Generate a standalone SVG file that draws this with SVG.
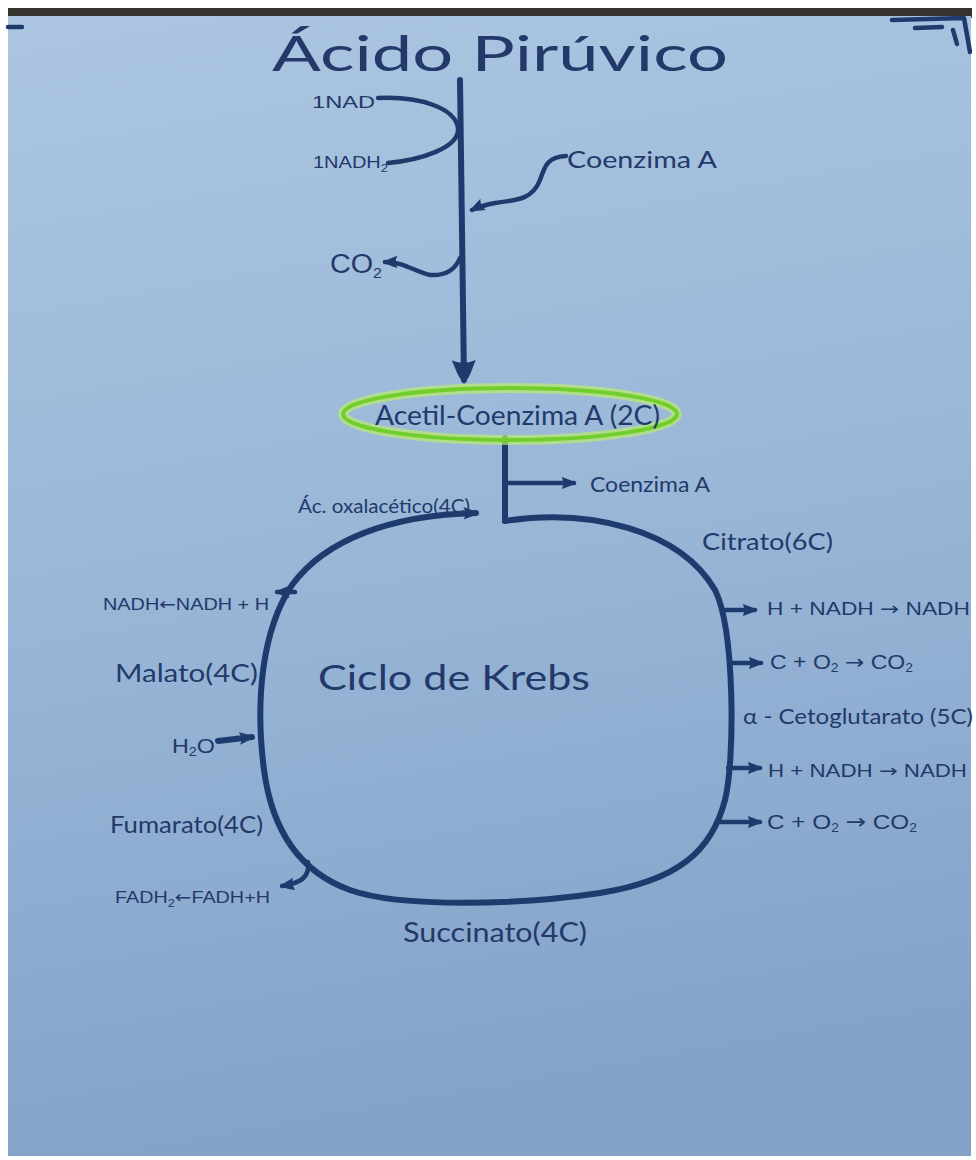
<svg xmlns="http://www.w3.org/2000/svg" width="976" height="1160" viewBox="0 0 976 1160">
<defs>
<linearGradient id="paper" x1="0" y1="0" x2="0.15" y2="1">
<stop offset="0" stop-color="#acc6e1"/>
<stop offset="0.5" stop-color="#9ab7d8"/>
<stop offset="1" stop-color="#84a3c9"/>
</linearGradient>
<marker id="ah" viewBox="0 0 12 12" refX="10" refY="6" markerWidth="15" markerHeight="15" markerUnits="userSpaceOnUse" orient="auto">
<path d="M0,1 Q6,3 12,6 Q6,9 0,11 Q3,6 0,1 Z" fill="#1f3b6e"/>
</marker>
<marker id="big" viewBox="0 0 12 12" refX="10" refY="6" markerWidth="24" markerHeight="28" markerUnits="userSpaceOnUse" orient="auto">
<path d="M0,0 L5,2 Q8,3 12,6 Q8,9 5,10 L0,12 Q3,6 0,0 Z" fill="#1f3b6e"/>
</marker>
</defs>
<style>
.ln{fill:none;stroke:#1f3b6e;stroke-width:6;stroke-linecap:round;stroke-linejoin:round}
.th{fill:none;stroke:#1f3b6e;stroke-width:4.5;stroke-linecap:round;stroke-linejoin:round}
.t{font-family:"Liberation Sans","DejaVu Sans",sans-serif;fill:#23396a}
.h{font-family:"Lato","Liberation Sans",sans-serif;fill:#23396a}
.ar{font-family:"DejaVu Sans",sans-serif}
</style>
<rect x="0" y="0" width="976" height="1160" fill="#ffffff"/>
<rect x="8" y="8" width="964" height="10" fill="#36322e"/>
<rect x="8" y="16" width="963" height="1140" fill="url(#paper)"/>

<g id="marks">
<path class="th" d="M8,27 L22,27"/>
<path class="th" d="M892,20 L964,18 L970,52"/>
<path class="th" d="M915,28 L942,27"/>
<path class="th" d="M953,30 L957,44"/>
</g>

<g id="title">
<text class="h" x="272" y="71" font-size="48" textLength="456" lengthAdjust="spacingAndGlyphs" fill="#2a4a82">Ácido Pirúvico</text>
</g>

<g id="connectors">
<path class="ln" d="M460,80 L464,380" marker-end="url(#big)"/>
<path class="th" d="M378,98 C420,96 455,108 458,128 C460,148 420,160 388,163"/>
<path class="th" d="M566,156 C548,157 545,165 540,180 C533,198 520,200 495,203 C485,205 478,207 472,210" marker-end="url(#ah)"/>
<path class="th" d="M460,258 C455,270 445,276 430,275 C415,272 405,262 385,262" marker-end="url(#ah)"/>
<path class="ln" d="M505,438 L505,521"/>
<path class="th" d="M505,483 L574,483" marker-end="url(#ah)"/>
<path class="ln" d="M505,521 C590,508 680,530 715,590 C735,630 735,760 725,800 C712,850 680,880 600,893 C520,905 400,908 350,890 C300,872 272,830 264,770 C255,700 262,630 292,585 C325,540 390,515 476,513" marker-end="url(#ah)"/>
<path class="th" d="M295,592 L277,592" marker-end="url(#ah)"/>
<path class="ln" d="M218,741 L252,737" marker-end="url(#ah)"/>
<path class="th" d="M308,862 C310,878 300,883 282,886" marker-end="url(#ah)"/>
<path class="th" d="M722,610 L755,610" marker-end="url(#ah)"/>
<path class="th" d="M731,663 L761,663" marker-end="url(#ah)"/>
<path class="th" d="M728,768 L760,768" marker-end="url(#ah)"/>
<path class="th" d="M717,822 L760,822" marker-end="url(#ah)"/>
</g>

<g id="nad">
<text class="t" x="312" y="108" font-size="17" textLength="63" lengthAdjust="spacingAndGlyphs">1NAD</text>
</g>
<g id="nadh2">
<text class="t" x="313" y="168" font-size="17" textLength="75" lengthAdjust="spacingAndGlyphs">1NADH<tspan font-size="11" dy="4">2</tspan></text>
</g>
<g id="coenzima-a-top">
<text class="h" x="567" y="168" font-size="24" textLength="150" lengthAdjust="spacingAndGlyphs">Coenzima A</text>
</g>
<g id="co2">
<text class="t" x="330" y="273" font-size="27" textLength="52" lengthAdjust="spacingAndGlyphs">CO<tspan font-size="15" dy="5">2</tspan></text>
</g>

<g id="acetil-coa">
<ellipse cx="510" cy="414" rx="167" ry="26" fill="none" stroke="#b9ec6c" stroke-width="10" opacity="0.7"/>
<ellipse cx="510" cy="414" rx="167" ry="26" fill="none" stroke="#72cf2b" stroke-width="4"/>
<text class="h" x="375" y="425" font-size="26" textLength="285" lengthAdjust="spacingAndGlyphs">Acetil-Coenzima A (2C)</text>
</g>
<g id="coenzima-a-low">
<text class="h" x="590" y="492" font-size="22" textLength="120" lengthAdjust="spacingAndGlyphs">Coenzima A</text>
</g>

<g id="ciclo">
<text class="h" x="318" y="690" font-size="34" textLength="272" lengthAdjust="spacingAndGlyphs" fill="#4a4a8a">Ciclo de Krebs</text>
</g>

<g id="oxalacetico">
<text class="h" x="298" y="513" font-size="19" textLength="172" lengthAdjust="spacingAndGlyphs">Ác. oxalacético(4C)</text>
</g>
<g id="nadh-left">
<text class="t" x="103" y="610" font-size="17" textLength="166" lengthAdjust="spacingAndGlyphs">NADH<tspan class="ar">←</tspan>NADH + H</text>
</g>
<g id="malato">
<text class="h" x="115" y="682" font-size="25" textLength="143" lengthAdjust="spacingAndGlyphs">Malato(4C)</text>
</g>
<g id="h2o">
<text class="t" x="172" y="753" font-size="21" textLength="43" lengthAdjust="spacingAndGlyphs">H<tspan font-size="13" dy="3">2</tspan><tspan dy="-3">O</tspan></text>
</g>
<g id="fumarato">
<text class="h" x="110" y="833" font-size="23" textLength="153" lengthAdjust="spacingAndGlyphs">Fumarato(4C)</text>
</g>
<g id="fadh2">
<text class="t" x="115" y="903" font-size="17" textLength="155" lengthAdjust="spacingAndGlyphs">FADH<tspan font-size="11" dy="4">2</tspan><tspan class="ar" dy="-4">←</tspan>FADH+H</text>
</g>
<g id="succinato">
<text class="h" x="403" y="942" font-size="26" textLength="184" lengthAdjust="spacingAndGlyphs">Succinato(4C)</text>
</g>

<g id="citrato">
<text class="h" x="702" y="550" font-size="23" textLength="131" lengthAdjust="spacingAndGlyphs">Citrato(6C)</text>
</g>
<g id="nadh-r1">
<text class="t" x="767" y="615" font-size="18" textLength="203" lengthAdjust="spacingAndGlyphs">H + NADH <tspan class="ar">→</tspan> NADH</text>
</g>
<g id="co2-r1">
<text class="t" x="770" y="669" font-size="20" textLength="143" lengthAdjust="spacingAndGlyphs">C + O<tspan font-size="12" dy="3">2</tspan><tspan dy="-3"> </tspan><tspan class="ar">→</tspan> CO<tspan font-size="12" dy="3">2</tspan></text>
</g>
<g id="cetoglutarato">
<text class="h" x="743" y="724" font-size="22" textLength="230" lengthAdjust="spacingAndGlyphs">α - Cetoglutarato (5C)</text>
</g>
<g id="nadh-r2">
<text class="t" x="768" y="777" font-size="18" textLength="199" lengthAdjust="spacingAndGlyphs">H + NADH <tspan class="ar">→</tspan> NADH</text>
</g>
<g id="co2-r2">
<text class="t" x="767" y="829" font-size="21" textLength="150" lengthAdjust="spacingAndGlyphs">C + O<tspan font-size="12" dy="3">2</tspan><tspan dy="-3"> </tspan><tspan class="ar">→</tspan> CO<tspan font-size="12" dy="3">2</tspan></text>
</g>
</svg>
